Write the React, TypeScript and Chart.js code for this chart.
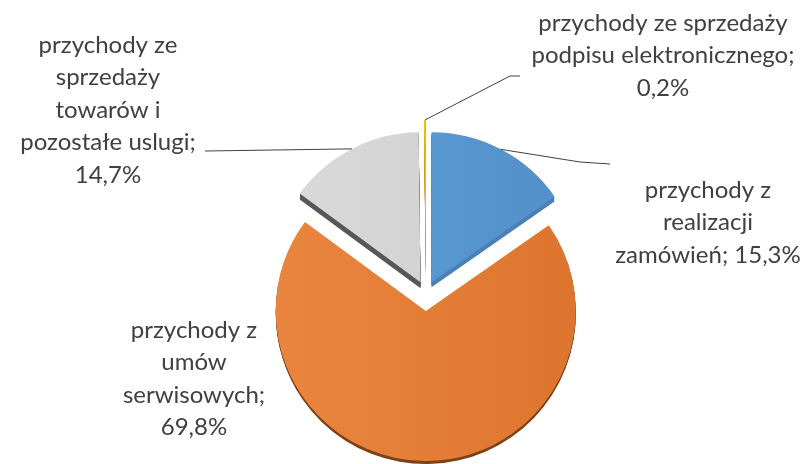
import React, { useEffect, useRef } from 'react';
import { Chart, registerables } from 'chart.js';

Chart.register(...registerables);

// ---- data ----
const categories = [
  'przychody z realizacji zamówień',
  'przychody z umów serwisowych',
  'przychody ze sprzedaży towarów i pozostałe uslugi',
  'przychody ze sprzedaży podpisu elektronicznego',
];
const values = [15.3, 69.8, 14.7, 0.2];
const labelNameLines = [
  ['przychody z', 'realizacji', 'zamówień;'],
  ['przychody z', 'umów', 'serwisowych;'],
  ['przychody ze', 'sprzedaży', 'towarów i', 'pozostałe uslugi;'],
  ['przychody ze sprzedaży', 'podpisu elektronicznego;'],
];
// whether the value goes on the same line as the last name line
const valueInline = [true, false, false, false];

// ---- styles / layout ----
const colorsLeft = ['#5FA0D9', '#EA853F', '#DADADA', '#FFC000'];
const colorsRight = ['#538FC9', '#DE752F', '#CDCDCD', '#FFC000'];
const sideColors = ['#4A80B8', '#7A4216', '#575757', '#B38700'];
const sideDepth = [5, 3, 6, 5];
const explodePx = [12, 18, 12, 23]; // explode distance of each slice, px
const labelCenters: [number, number][] = [
  [708, 190],
  [194, 330],
  [108, 45],
  [663, 23],
];
const leaderPaths: [number, number][][] = [
  [[580, 162], [610, 164]],
  [],
  [[205, 151]],
  [[510, 76], [520, 76]],
];
const FONT = '24px Lato, "Open Sans", sans-serif';
const LINE_H = 32.5;
const RADIUS = 150;

const fmt = (v: number) => v.toFixed(1).replace('.', ',') + '%';

// explode slices by moving each arc's centre along its mid angle (keeps radius unchanged)
const explodePlugin = {
  id: 'explode',
  afterUpdate(chart: any) {
    const meta = chart.getDatasetMeta(0);
    meta.data.forEach((a: any, i: number) => {
      const mid = (a.startAngle + a.endAngle) / 2;
      a.x += Math.cos(mid) * explodePx[i];
      a.y += Math.sin(mid) * explodePx[i];
    });
  },
};

const depthPlugin = {
  id: 'depth3d',
  beforeDatasetsDraw(chart: any) {
    const ctx = chart.ctx;
    const meta = chart.getDatasetMeta(0);
    meta.data.forEach((a: any, i: number) => {
      ctx.save();
      ctx.fillStyle = sideColors[i];
      for (let d = 1; d <= sideDepth[i]; d++) {
        ctx.beginPath();
        ctx.moveTo(a.x, a.y + d);
        ctx.arc(a.x, a.y + d, a.outerRadius, a.startAngle, a.endAngle);
        ctx.closePath();
        ctx.fill();
      }
      ctx.restore();
    });
  },
};

const labelPlugin = {
  id: 'pieLabels',
  afterDatasetsDraw(chart: any) {
    const ctx = chart.ctx;
    const meta = chart.getDatasetMeta(0);
    ctx.save();
    ctx.strokeStyle = '#404040';
    ctx.lineWidth = 1;
    meta.data.forEach((a: any, i: number) => {
      const path = leaderPaths[i];
      if (!path.length) return;
      const mid = (a.startAngle + a.endAngle) / 2;
      const r = a.outerRadius;
      ctx.beginPath();
      ctx.moveTo(a.x + Math.cos(mid) * r, a.y + Math.sin(mid) * r);
      path.forEach(([x, y]) => ctx.lineTo(x, y));
      ctx.stroke();
    });
    ctx.fillStyle = '#404040';
    ctx.font = FONT;
    ctx.textAlign = 'center';
    ctx.textBaseline = 'middle';
    values.forEach((v, i) => {
      const lines = labelNameLines[i].slice();
      if (valueInline[i]) lines[lines.length - 1] += ' ' + fmt(v);
      else lines.push(fmt(v));
      const [x, y] = labelCenters[i];
      lines.forEach((t, k) => ctx.fillText(t, x, y + k * LINE_H));
    });
    ctx.restore();
  },
};

export default function App() {
  const ref = useRef<HTMLCanvasElement>(null);
  useEffect(() => {
    if (!ref.current) return;
    const chart = new Chart(ref.current, {
      type: 'pie',
      data: {
        labels: categories,
        datasets: [
          {
            data: values,
            backgroundColor: (c: any) => {
              const i = c.dataIndex;
              const area = c.chart.chartArea;
              if (!area) return colorsLeft[i];
              const cx = (area.left + area.right) / 2;
              const g = c.chart.ctx.createLinearGradient(cx - RADIUS, 0, cx + RADIUS, 0);
              g.addColorStop(0, colorsLeft[i]);
              g.addColorStop(1, colorsRight[i]);
              return g;
            },
            borderWidth: 0,
          },
        ],
      },
      options: {
        responsive: false,
        animation: false,
        devicePixelRatio: 1,
        radius: RADIUS,
        layout: { padding: { left: 42, right: 0, top: 122, bottom: 0 } },
        plugins: {
          legend: { display: false },
          tooltip: { enabled: false },
        },
        events: [],
      } as any,
      plugins: [explodePlugin, depthPlugin, labelPlugin],
    });
    return () => chart.destroy();
  }, []);
  return (
    <div style={{ position: 'fixed', left: 0, top: 0, width: 810, height: 464, background: '#fff' }}>
      <canvas ref={ref} width={810} height={464} />
    </div>
  );
}
